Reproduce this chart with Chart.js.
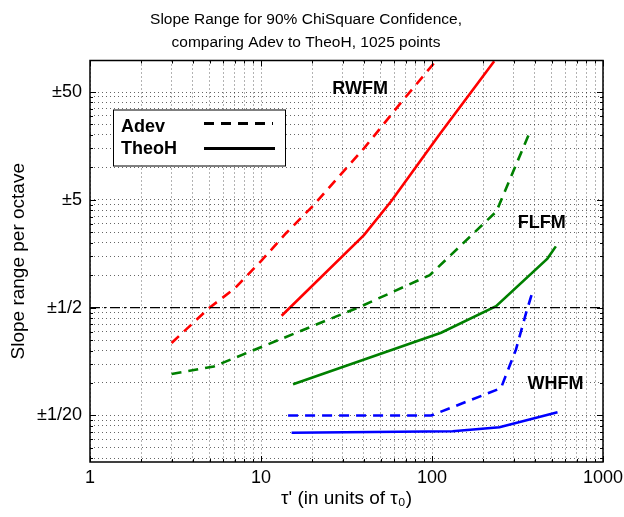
<!DOCTYPE html>
<html>
<head>
<meta charset="utf-8">
<script src="https://cdn.jsdelivr.net/npm/chart.js@4.4.1/dist/chart.umd.min.js"></script>
<style>
    body { margin: 0; background: #fff; }
</style>
</head>
<body>
<canvas id="myChart" width="624" height="517"></canvas>
<script>
const FONT = "'Liberation Sans', Arial, Helvetica, sans-serif";

// tau' values (units of tau0) and slope range (full width, labelled as +/- half)
const rwAdevX = [3, 5, 7, 10, 14, 20, 40, 66, 103];
const rwAdevY = [0.47, 1.0, 1.5, 2.7, 4.9, 8.7, 30, 80, 186];
const rwTheoX = [13.2, 40, 58, 110, 231];
const rwTheoY = [0.84, 4.7, 9.8, 40, 193];

const flAdevX = [3.0, 5.3, 38, 97, 238, 379];
const flAdevY = [0.242, 0.285, 1.02, 2.0, 7.8, 45];
const flTheoX = [15.4, 113, 237, 473, 530];
const flTheoY = [0.195, 0.585, 1.03, 2.85, 3.7];

const whAdevX = [14.4, 99, 253, 310, 354, 387];
const whAdevY = [0.1, 0.1, 0.179, 0.41, 0.88, 1.4];
const whTheoX = [15.1, 132, 248, 542];
const whTheoY = [0.069, 0.0713, 0.0776, 0.107];

// reference line at +/-1/2
const refX = [1, 1000];
const refY = [1, 1];

const xTickValues = [1, 10, 100, 1000];
const xTickLabels = ['1', '10', '100', '1000'];
const yTickValues = [0.1, 1, 10, 100];
const yTickLabels = ['\u00b11/20', '\u00b11/2', '\u00b15', '\u00b150'];

const noiseNames = ['RWFM', 'FLFM', 'WHFM'];
const noiseNameX = [38, 438, 528];
const noiseNameY = [106, 6.07, 0.195];

const RED = '#ff0000';
const GREEN = '#008000';
const BLUE = '#0000ff';
const DASH = [10, 7];

function toPoints(xs, ys) {
    return xs.map((x, i) => ({ x: x, y: ys[i] }));
}

function series(label, xs, ys, color, dashed) {
    return {
        label: label,
        data: toPoints(xs, ys),
        borderColor: color,
        borderWidth: 2.6,
        borderDash: dashed ? DASH : [],
        pointRadius: 0,
        fill: false,
        tension: 0
    };
}

// every 1..9 x 10^k inside the axis range, like a matlab log grid
function logGrid(scale) {
    const ticks = [];
    const lo = Math.floor(Math.log10(scale.min));
    const hi = Math.ceil(Math.log10(scale.max));
    for (let e = lo; e <= hi; e++) {
        for (let k = 1; k < 10; k++) {
            const v = k * Math.pow(10, e);
            if (v >= scale.min * 0.9999 && v <= scale.max * 1.0001) {
                ticks.push({ value: v, major: k === 1 });
            }
        }
    }
    scale.ticks = ticks;
}

function labelFor(values, labels) {
    return (value) => {
        const i = values.findIndex(t => Math.abs(t - value) / t < 1e-6);
        return i >= 0 ? labels[i] : '';
    };
}

const framePlugin = {
    id: 'frame',
    afterDatasetsDraw(chart) {
        const { ctx, chartArea: a, scales: { x, y } } = chart;
        ctx.save();

        // noise type names
        ctx.fillStyle = '#000';
        ctx.font = 'bold 18px ' + FONT;
        ctx.textAlign = 'center';
        ctx.textBaseline = 'middle';
        noiseNames.forEach((name, i) => {
            ctx.fillText(name, x.getPixelForValue(noiseNameX[i]), y.getPixelForValue(noiseNameY[i]));
        });

        // legend box
        const lx = a.left + 23, ly = a.top + 49, lw = 172, lh = 56;
        ctx.fillStyle = '#fff';
        ctx.fillRect(lx, ly, lw, lh);
        ctx.strokeStyle = '#000';
        ctx.lineWidth = 1;
        ctx.strokeRect(lx + 0.5, ly + 0.5, lw, lh);

        ctx.fillStyle = '#000';
        ctx.textAlign = 'left';
        ctx.fillText('Adev', lx + 8, ly + 18);
        ctx.fillText('TheoH', lx + 8, ly + 40);

        ctx.lineWidth = 3;
        ctx.setLineDash(DASH);
        ctx.beginPath();
        ctx.moveTo(lx + 91, ly + 14);
        ctx.lineTo(lx + 160, ly + 14);
        ctx.stroke();
        ctx.setLineDash([]);
        ctx.beginPath();
        ctx.moveTo(lx + 91, ly + 39);
        ctx.lineTo(lx + 162, ly + 39);
        ctx.stroke();
        ctx.restore();
    },
    afterDraw(chart) {
        const { ctx, chartArea: a, scales: { x, y } } = chart;
        ctx.save();
        ctx.strokeStyle = '#000';
        ctx.lineWidth = 1;
        ctx.beginPath();
        x.ticks.forEach(t => {
            const px = Math.round(x.getPixelForValue(t.value)) + 0.5;
            const len = t.major ? 6 : 3;
            ctx.moveTo(px, a.bottom); ctx.lineTo(px, a.bottom - len);
            ctx.moveTo(px, a.top); ctx.lineTo(px, a.top + len);
        });
        y.ticks.forEach(t => {
            const py = Math.round(y.getPixelForValue(t.value)) + 0.5;
            const len = t.major ? 6 : 3;
            ctx.moveTo(a.left, py); ctx.lineTo(a.left + len, py);
            ctx.moveTo(a.right, py); ctx.lineTo(a.right - len, py);
        });
        ctx.stroke();
        ctx.lineWidth = 1.5;
        ctx.strokeRect(a.left, a.top, a.right - a.left, a.bottom - a.top);
        ctx.restore();
    }
};

const gridStyle = {
    color: 'rgba(0,0,0,0.6)',
    lineWidth: 1,
    drawTicks: false
};

const ctx = document.getElementById('myChart');
const myChart = new Chart(ctx, {
    type: 'line',
    data: {
        datasets: [
            {
                label: 'ref',
                data: toPoints(refX, refY),
                borderColor: '#000',
                borderWidth: 1.2,
                borderDash: [10, 4, 2, 4],
                pointRadius: 0
            },
            series('RWFM Adev', rwAdevX, rwAdevY, RED, true),
            series('RWFM TheoH', rwTheoX, rwTheoY, RED, false),
            series('FLFM Adev', flAdevX, flAdevY, GREEN, true),
            series('FLFM TheoH', flTheoX, flTheoY, GREEN, false),
            series('WHFM Adev', whAdevX, whAdevY, BLUE, true),
            series('WHFM TheoH', whTheoX, whTheoY, BLUE, false)
        ]
    },
    options: {
        responsive: false,
        animation: false,
        layout: { padding: { left: 0, right: 12, top: 0, bottom: 0 } },
        plugins: {
            legend: { display: false },
            tooltip: { enabled: false },
            title: {
                display: true,
                text: ['Slope Range for 90% ChiSquare Confidence,', 'comparing Adev to TheoH, 1025 points'],
                color: '#000',
                font: { family: FONT, size: 15.5, weight: 'normal', lineHeight: 1.5 },
                padding: { top: 8, bottom: 6 }
            }
        },
        scales: {
            x: {
                type: 'logarithmic',
                min: 1,
                max: 1000,
                afterBuildTicks: logGrid,
                afterFit: (s) => { s.height = 55; s.paddingLeft = 0; s.paddingRight = 21; },
                grid: gridStyle,
                border: { display: false, dash: [1, 3] },
                ticks: {
                    autoSkip: false,
                    maxRotation: 0,
                    minRotation: 0,
                    padding: 5,
                    color: '#000',
                    font: { family: FONT, size: 18 },
                    callback: labelFor(xTickValues, xTickLabels)
                },
                title: {
                    display: true,
                    text: "\u03c4' (in units of \u03c4\u2080)",
                    color: '#000',
                    font: { family: FONT, size: 19 },
                    padding: { top: 0, bottom: 7 }
                }
            },
            y: {
                type: 'logarithmic',
                min: 0.037,
                max: 196,
                afterBuildTicks: logGrid,
                afterFit: (s) => { s.width = 90; s.paddingTop = 0; s.paddingBottom = 0; },
                grid: gridStyle,
                border: { display: false, dash: [1, 3] },
                ticks: {
                    autoSkip: false,
                    padding: 8,
                    color: '#000',
                    font: { family: FONT, size: 18 },
                    callback: labelFor(yTickValues, yTickLabels)
                },
                title: {
                    display: true,
                    text: 'Slope range per octave',
                    color: '#000',
                    font: { family: FONT, size: 19 },
                    padding: { top: 7, bottom: 0 }
                }
            }
        }
    },
    plugins: [framePlugin]
});
</script>
</body>
</html>
